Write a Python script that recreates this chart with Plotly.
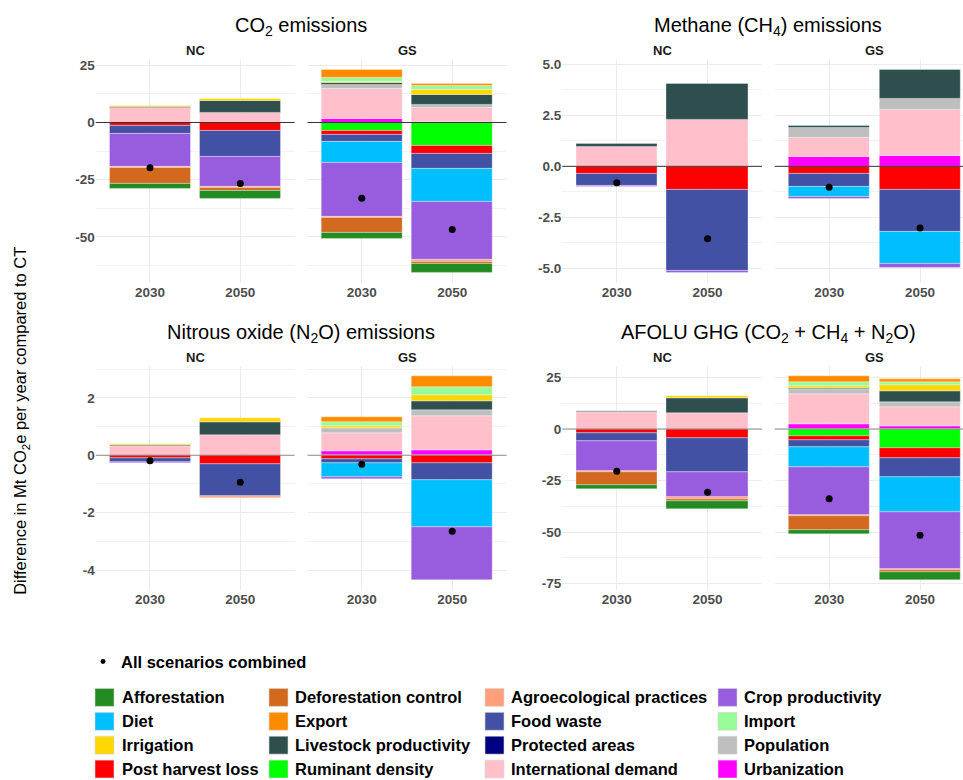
import math
import plotly.graph_objects as go

# ---------------------------------------------------------------- data
# Driver categories (legend order, read row by row)
categories = [
    "Afforestation", "Deforestation control", "Agroecological practices", "Crop productivity",
    "Diet", "Export", "Food waste", "Import",
    "Irrigation", "Livestock productivity", "Protected areas", "Population",
    "Post harvest loss", "Ruminant density", "International demand", "Urbanization",
]
colors = [
    "#228B22", "#D2691E", "#FFA07A", "#985CDE",
    "#00BFFF", "#FF8C00", "#4351A4", "#98FB98",
    "#FFD700", "#2F4F4F", "#000080", "#BEBEBE",
    "#FF0000", "#00FF00", "#FFC0CB", "#FF00FF",
]
regions = ["NC", "GS"]
years = ["2030", "2050"]

# values per category: [NC 2030, NC 2050, GS 2030, GS 2050]  (Mt CO2e / yr vs CT)
co2 = {
    "Afforestation": [-2.2, -3.3, -2.5, -3.6],
    "Deforestation control": [-6.8, -1.3, -6.5, -1.2],
    "Agroecological practices": [-0.4, -0.6, -0.4, -0.6],
    "Crop productivity": [-14.5, -13.0, -23.8, -25.6],
    "Diet": [0, 0, -9.2, -14.5],
    "Export": [0, 0, 3.6, 0.7],
    "Food waste": [-3.3, -11.4, -3.0, -6.5],
    "Import": [0, 0, 1.4, 1.6],
    "Irrigation": [0.3, 1.0, 0.5, 2.3],
    "Livestock productivity": [0.4, 5.3, 0.9, 4.5],
    "Protected areas": [0, 0, 0, 0],
    "Population": [0, 0, 2.0, 1.4],
    "Post harvest loss": [-1.6, -3.6, -1.7, -3.5],
    "Ruminant density": [0, 0, -3.6, -10.0],
    "International demand": [6.5, 4.3, 13.0, 5.9],
    "Urbanization": [0, 0, 1.6, 0.4],
}
co2_combined = [-19.8, -26.6, -33.1, -46.8]

ch4 = {
    "Afforestation": [0, 0, 0, 0],
    "Deforestation control": [0, 0, 0, 0],
    "Agroecological practices": [0, 0, 0, 0],
    "Crop productivity": [-0.05, -0.08, -0.1, -0.2],
    "Diet": [0, 0, -0.46, -1.56],
    "Export": [0, 0, 0, 0],
    "Food waste": [-0.57, -3.97, -0.65, -2.04],
    "Import": [0, 0, 0, 0],
    "Irrigation": [0, 0, 0, 0],
    "Livestock productivity": [0.16, 1.74, 0.13, 1.40],
    "Protected areas": [0, 0, 0, 0],
    "Population": [0, 0, 0.45, 0.54],
    "Post harvest loss": [-0.36, -1.14, -0.36, -1.14],
    "Ruminant density": [0, 0, 0, 0],
    "International demand": [0.94, 2.29, 0.97, 2.26],
    "Urbanization": [0, 0, 0.45, 0.52],
}
ch4_combined = [-0.8, -3.54, -1.02, -3.02]

n2o = {
    "Afforestation": [0, 0, 0, 0],
    "Deforestation control": [0, 0, 0, 0],
    "Agroecological practices": [0, -0.07, 0, 0],
    "Crop productivity": [-0.02, 0, -0.06, -1.82],
    "Diet": [0, 0, -0.49, -1.64],
    "Export": [0, 0, 0.18, 0.38],
    "Food waste": [-0.15, -1.13, -0.16, -0.59],
    "Import": [0, 0, 0.13, 0.27],
    "Irrigation": [0.04, 0.13, 0.07, 0.22],
    "Livestock productivity": [0.03, 0.44, 0, 0.32],
    "Protected areas": [0, 0, 0, 0],
    "Population": [0, 0, 0.18, 0.19],
    "Post harvest loss": [-0.09, -0.31, -0.12, -0.29],
    "Ruminant density": [0, 0, 0, 0],
    "International demand": [0.32, 0.71, 0.61, 1.19],
    "Urbanization": [0, 0, 0.15, 0.18],
}
n2o_combined = [-0.19, -0.94, -0.31, -2.65]

afolu = {
    "Afforestation": [-1.8, -3.8, -2.1, -3.8],
    "Deforestation control": [-6.4, -1.1, -6.6, -0.8],
    "Agroecological practices": [-0.5, -0.6, -0.5, -0.6],
    "Crop productivity": [-14.8, -12.5, -23.4, -27.5],
    "Diet": [0, 0, -9.5, -17.2],
    "Export": [0, 0, 3.0, 1.1],
    "Food waste": [-3.6, -16.2, -3.6, -9.0],
    "Import": [0, 0, 1.8, 1.8],
    "Irrigation": [0.2, 1.1, 1.1, 2.6],
    "Livestock productivity": [0.5, 7.5, 0.5, 5.6],
    "Protected areas": [0, 0, 0, 0],
    "Population": [0, 0, 2.3, 2.1],
    "Post harvest loss": [-2.1, -4.6, -2.0, -4.8],
    "Ruminant density": [0, 0, -3.4, -9.5],
    "International demand": [8.2, 7.5, 14.6, 9.3],
    "Urbanization": [0, 0, 2.3, 1.5],
}
afolu_combined = [-20.5, -30.7, -33.8, -51.6]

# ---------------------------------------------------------------- layout helpers
W, H = 963, 780
FONT = "Liberation Sans, Arial, sans-serif"
TICK_GREY = "#4D4D4D"
GRID = "#EBEBEB"


def fx(p):
    return p / W


def fy(p):
    return 1 - p / H


def tick_grid(lo, hi, step):
    k0 = math.ceil(lo / step - 1e-9)
    k1 = math.floor(hi / step + 1e-9)
    return [round(k * step, 6) for k in range(k0, k1 + 1)]


# pixel spans of each facet: columns -> (NC span, GS span), rows -> (top, bottom)
col_spans = [((95.8, 294.5), (307.5, 506.5)), ((562.3, 762.1), (774.6, 974.6))]
row_spans = [(57, 281), (365, 590)]

panels = [
    dict(title="CO<sub>2</sub> emissions", data=co2, dots=co2_combined,
         dtick=25, fmt="{:.0f}", row=0, col=0, zcol="#333333"),
    dict(title="Methane (CH<sub>4</sub>) emissions", data=ch4, dots=ch4_combined,
         dtick=2.5, fmt="{:.1f}", row=0, col=1, zcol="#333333"),
    dict(title="Nitrous oxide (N<sub>2</sub>O) emissions", data=n2o, dots=n2o_combined,
         dtick=2, fmt="{:.0f}", row=1, col=0, zcol="#8C8C8C"),
    dict(title="AFOLU GHG (CO<sub>2</sub> + CH<sub>4</sub> + N<sub>2</sub>O)", data=afolu,
         dots=afolu_combined, dtick=25, fmt="{:.0f}", row=1, col=1, zcol="#8C8C8C"),
]

# stacking order: last legend entry sits next to zero, first one furthest out
stack_order = list(range(len(categories)))[::-1]

fig = go.Figure()
layout_axes = {}
shapes = []
annotations = []

ax = 0
for p in panels:
    data = p["data"]
    # y range from stacked extents with 5% padding
    tops, bottoms = [], []
    for k in range(4):
        vals = [data[c][k] for c in categories]
        tops.append(sum(v for v in vals if v > 0))
        bottoms.append(sum(v for v in vals if v < 0))
    ymax = max(tops + p["dots"] + [0])
    ymin = min(bottoms + p["dots"] + [0])
    pad = 0.05 * (ymax - ymin)
    yrange = [ymin - pad, ymax + pad]

    major = tick_grid(yrange[0], yrange[1], p["dtick"])
    minor = tick_grid(yrange[0], yrange[1], p["dtick"] / 2)
    labels = [p["fmt"].format(v).replace("\u2212", "-") for v in major]
    labels = ["0" if p["fmt"] == "{:.0f}" and v == 0 else s for v, s in zip(major, labels)]

    r0, r1 = row_spans[p["row"]]
    for f, reg in enumerate(regions):
        ax += 1
        xs = "" if ax == 1 else str(ax)
        x0, x1 = col_spans[p["col"]][f]
        x1c = min(x1, W)
        xr_end = -0.6 + 2.2 * (x1c - x0) / (x1 - x0)

        for i in stack_order:
            cat = categories[i]
            vals = data[cat][2 * f:2 * f + 2]
            yv = [v if v != 0 else None for v in vals]
            if all(v is None for v in yv):
                continue
            fig.add_trace(go.Bar(
                x=years, y=yv, width=0.9, name=cat,
                marker=dict(color=colors[i],
                            line=dict(color="rgba(255,255,255,0.55)", width=0.6)),
                xaxis="x" + xs, yaxis="y" + xs, showlegend=False,
            ))
        fig.add_trace(go.Scatter(
            x=years, y=p["dots"][2 * f:2 * f + 2], mode="markers",
            marker=dict(color="black", size=7), name="All scenarios combined",
            xaxis="x" + xs, yaxis="y" + xs, showlegend=False, cliponaxis=False,
        ))

        layout_axes["xaxis" + xs] = dict(
            domain=[fx(x0), fx(x1c)], anchor="y" + xs, type="category",
            categoryorder="array", categoryarray=years,
            range=[-0.6, xr_end], showgrid=True, gridcolor=GRID, gridwidth=1,
            zeroline=False, showline=False, ticks="",
            tickfont=dict(family=FONT, size=13.5, color=TICK_GREY, weight="bold"),
            fixedrange=True,
        )
        layout_axes["yaxis" + xs] = dict(
            domain=[fy(r1), fy(r0)], anchor="x" + xs, range=yrange,
            tickmode="array", tickvals=major, ticktext=labels,
            showgrid=True, gridcolor=GRID, gridwidth=1,
            minor=dict(tickmode="array", tickvals=minor, showgrid=True,
                       gridcolor="#F2F2F2", gridwidth=0.8),
            zeroline=False, showline=False, ticks="",
            showticklabels=(f == 0),
            tickfont=dict(family=FONT, size=13.5, color=TICK_GREY, weight="bold"),
            fixedrange=True,
        )
        # horizontal reference line at zero
        shapes.append(dict(type="line", xref="x" + xs + " domain", yref="y" + xs,
                           x0=0, x1=1, y0=0, y1=0, layer="above",
                           line=dict(color=p["zcol"], width=1)))
        # facet strip label
        annotations.append(dict(text="<b>" + reg + "</b>", x=fx((x0 + x1) / 2),
                                y=fy(r0 - 9), xref="paper", yref="paper",
                                showarrow=False, xanchor="center", yanchor="middle",
                                font=dict(family=FONT, size=13, color="#1A1A1A")))

    # panel title
    cx0 = col_spans[p["col"]][0][0]
    cx1 = col_spans[p["col"]][1][1]
    annotations.append(dict(text=p["title"], x=fx((cx0 + cx1) / 2), y=fy(r0 - 33),
                            xref="paper", yref="paper", showarrow=False,
                            xanchor="center", yanchor="middle",
                            font=dict(family=FONT, size=20, color="black")))

# shared y-axis title
annotations.append(dict(text="Difference in Mt CO<sub>2</sub>e per year compared to CT",
                        x=fx(21), y=fy(420), xref="paper", yref="paper",
                        showarrow=False, textangle=-90, xanchor="center", yanchor="middle",
                        font=dict(family=FONT, size=16.5, color="black")))

# ---------------------------------------------------------------- legend
shapes.append(dict(type="circle", xref="paper", yref="paper",
                   x0=fx(100.5), x1=fx(105.5), y0=fy(664.5), y1=fy(659.5),
                   fillcolor="black", line=dict(width=0)))
annotations.append(dict(text="<b>All scenarios combined</b>", x=fx(119), y=fy(662),
                        xref="paper", yref="paper", showarrow=False,
                        xanchor="left", yanchor="middle",
                        font=dict(family=FONT, size=16.5, color="black")))

sw_x = [95, 269, 485, 718]
tx_x = [120, 293, 509, 742]
row_y = [698, 722, 746, 770]
for idx, cat in enumerate(categories):
    r, c = divmod(idx, 4)
    cy = row_y[r]
    shapes.append(dict(type="rect", xref="paper", yref="paper",
                       x0=fx(sw_x[c]), x1=fx(sw_x[c] + 19),
                       y0=fy(cy + 9), y1=fy(cy - 9),
                       fillcolor=colors[idx], line=dict(color="#D9D9D9", width=0.6)))
    annotations.append(dict(text="<b>" + cat + "</b>", x=fx(tx_x[c]), y=fy(cy),
                            xref="paper", yref="paper", showarrow=False,
                            xanchor="left", yanchor="middle",
                            font=dict(family=FONT, size=16.5, color="black")))

fig.update_layout(
    width=W, height=H, margin=dict(l=0, r=0, t=0, b=0),
    paper_bgcolor="white", plot_bgcolor="white",
    barmode="relative", bargap=0, showlegend=False,
    font=dict(family=FONT),
    shapes=shapes, annotations=annotations,
    **layout_axes,
)

fig.write_html("out.html", config={"displayModeBar": False})
